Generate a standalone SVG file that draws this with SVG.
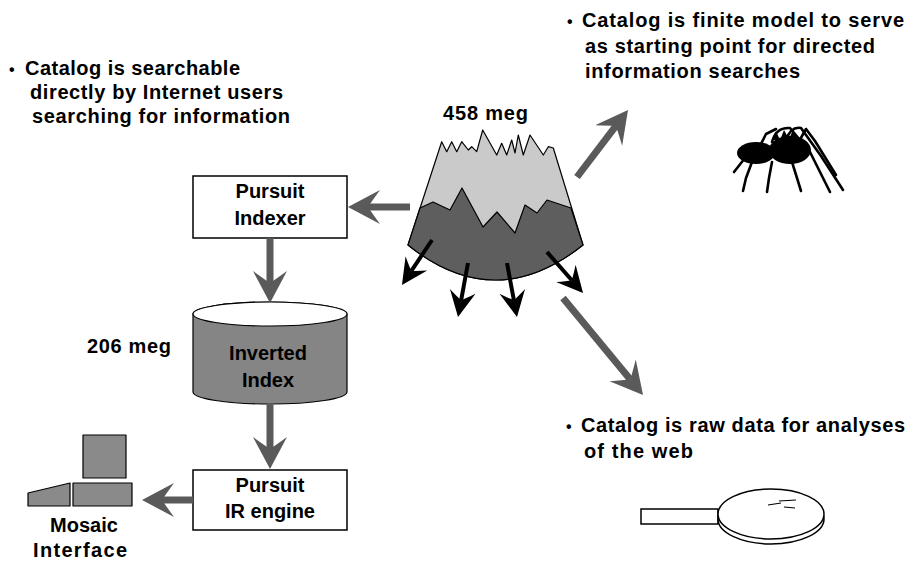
<svg xmlns="http://www.w3.org/2000/svg" width="912" height="561" viewBox="0 0 912 561">
  <style>
    text { font-family: "Liberation Sans", Arial, sans-serif; font-weight: bold; fill: #000; }
    .note { font-size: 20px; }
    .label { font-size: 20px; text-anchor: middle; }
    .dot { font-size: 16px; }
    .box { fill: #fff; stroke: #000; stroke-width: 1.5; }
    .outline { stroke: #000; stroke-width: 1.2; stroke-linejoin: round; }
    .flow { stroke: #5a5a5a; stroke-width: 7; fill: none; }
    .drop { stroke: #000; stroke-width: 4; fill: none; }
    .leg { stroke: #000; stroke-width: 2.6; fill: none; stroke-linecap: round; stroke-linejoin: round; }
  </style>
  <defs>
    <marker id="greyHead" markerUnits="userSpaceOnUse" viewBox="0 -18 32 36" refX="12" refY="0" markerWidth="32" markerHeight="36" orient="auto">
      <path d="M32,0 L0,-17 Q8,-6 12,0 Q8,6 0,17 Z" fill="#5a5a5a"/>
    </marker>
    <marker id="blackHead" markerUnits="userSpaceOnUse" viewBox="0 -14 26 28" refX="9" refY="0" markerWidth="26" markerHeight="28" orient="auto">
      <path d="M26,0 L0,-13 Q6,-5 9,0 Q6,5 0,13 Z" fill="#000"/>
    </marker>
  </defs>

  <rect width="912" height="561" fill="#fff"/>

  <!-- notes -->
  <g id="note-search">
    <text class="dot" x="9" y="75">•</text>
    <text class="note" x="25" y="75" textLength="215" lengthAdjust="spacing">Catalog is searchable</text>
    <text class="note" x="30" y="99" textLength="253" lengthAdjust="spacing">directly by Internet users</text>
    <text class="note" x="32" y="123" textLength="258" lengthAdjust="spacing">searching for information</text>
  </g>
  <g id="note-model">
    <text class="dot" x="567" y="27">•</text>
    <text class="note" x="582" y="27" textLength="322" lengthAdjust="spacing">Catalog is finite model to serve</text>
    <text class="note" x="585" y="53" textLength="290" lengthAdjust="spacing">as starting point for directed</text>
    <text class="note" x="585" y="78" textLength="215" lengthAdjust="spacing">information searches</text>
  </g>
  <g id="note-raw">
    <text class="dot" x="566" y="432">•</text>
    <text class="note" x="581" y="432" textLength="324" lengthAdjust="spacing">Catalog is raw data for analyses</text>
    <text class="note" x="584" y="458" textLength="109" lengthAdjust="spacing">of the web</text>
  </g>

  <!-- catalog mountain -->
  <g id="catalog">
    <text class="note" x="443" y="120" textLength="85" lengthAdjust="spacing">458 meg</text>
    <path class="outline" fill="#cacaca" d="M441.7,141.7 L446.7,151.7 L451.7,141.7 L456.7,151.7 L461.7,141.7 L468.3,150 L471.7,146.7 L476.7,151.7 L482.7,130 L496.7,155 L501.7,143.3 L506.7,155 L511.7,140 L515,153 L518.3,135 L523.3,155 L530,135 L543.3,155 L548.3,146.7 L553.3,148 L583,245 Q495,315 408,245 Z"/>
    <path class="outline" fill="#5e5e5e" d="M420,208 L433,202 L450,210 L462,188 L483,227 L497,212 L515,233 L525,205 L537,213 L547,200 L571,208 L583,245 Q495,315 408,245 Z"/>
  </g>

  <!-- Pursuit Indexer -->
  <g id="indexer">
    <rect class="box" x="193" y="176" width="154" height="62"/>
    <text class="label" x="270" y="198">Pursuit</text>
    <text class="label" x="270" y="225">Indexer</text>
  </g>

  <!-- Inverted Index cylinder -->
  <g id="inverted-index">
    <text class="note" x="87" y="353" textLength="84" lengthAdjust="spacing">206 meg</text>
    <path class="outline" fill="#858585" d="M193,314 L193,392 A77,12 0 0 0 347,392 L347,314 A77,12 0 0 0 193,314 Z"/>
    <ellipse class="outline" fill="#fff" cx="270" cy="314" rx="77" ry="12"/>
    <text class="label" x="268" y="360">Inverted</text>
    <text class="label" x="268" y="387">Index</text>
  </g>

  <!-- Pursuit IR engine -->
  <g id="ir-engine">
    <rect class="box" x="193" y="470" width="154" height="60"/>
    <text class="label" x="270" y="492">Pursuit</text>
    <text class="label" x="270" y="518">IR engine</text>
  </g>

  <!-- Mosaic interface -->
  <g id="mosaic">
    <rect class="outline" fill="#8a8a8a" x="83" y="435" width="43" height="43"/>
    <rect class="outline" fill="#8a8a8a" x="73" y="483" width="59" height="23"/>
    <path class="outline" fill="#8a8a8a" d="M28,506 L28,493 L70,483 L70,506 Z"/>
    <text class="label" x="84" y="532">Mosaic</text>
    <text class="note" x="33" y="557" textLength="94" lengthAdjust="spacing">Interface</text>
  </g>

  <!-- spider -->
  <g id="spider">
    <ellipse cx="756" cy="153" rx="19" ry="11" fill="#000"/>
    <ellipse cx="790" cy="150" rx="21" ry="14" fill="#000"/>
    <path d="M772,140 L776,131 L780,140 L784,130 L789,139 L793,130 L798,140 Z" fill="#000"/>
    <path class="leg" d="M745,158 L734,172"/>
    <path class="leg" d="M752,162 L746,178 L743,191"/>
    <path class="leg" d="M772,162 L769,178 L767,192"/>
    <path class="leg" d="M792,162 L797,178 L801,191"/>
    <path class="leg" d="M760,146 L766,134 L776,129"/>
    <path class="leg" d="M772,142 Q776,127 790,128 L810,152 L830,192"/>
    <path class="leg" d="M786,140 Q791,126 801,128 L821,156 L843,190"/>
    <path class="leg" d="M798,143 L806,129 L815,141 L836,175"/>
  </g>

  <!-- magnifying glass -->
  <g id="magnifier" fill="#fff" stroke="#000" stroke-width="1.5">
    <rect x="641" y="509" width="77" height="15"/>
    <ellipse cx="771" cy="519" rx="53" ry="25"/>
    <ellipse cx="771" cy="514" rx="53" ry="25"/>
    <path d="M768,505 L781,503 M779,501 L796,500 M784,507 L795,508" stroke-width="1.2"/>
  </g>

  <!-- connectors -->
  <g id="connectors">
    <line class="flow" x1="270" y1="238" x2="270" y2="283" marker-end="url(#greyHead)"/>
    <line class="flow" x1="270" y1="403" x2="270" y2="449" marker-end="url(#greyHead)"/>
    <line class="flow" x1="193" y1="500" x2="162" y2="500" marker-end="url(#greyHead)"/>
    <line class="flow" x1="410" y1="207" x2="368" y2="207" marker-end="url(#greyHead)"/>
    <line class="flow" x1="577" y1="177" x2="615.9" y2="125.9" marker-end="url(#greyHead)"/>
    <line class="flow" x1="563" y1="298" x2="630.3" y2="379.6" marker-end="url(#greyHead)"/>
    <line class="drop" x1="432" y1="240" x2="411.4" y2="270.9" marker-end="url(#blackHead)"/>
    <line class="drop" x1="468" y1="263" x2="461.1" y2="300.3" marker-end="url(#blackHead)"/>
    <line class="drop" x1="507" y1="263" x2="513.9" y2="300.3" marker-end="url(#blackHead)"/>
    <line class="drop" x1="547" y1="252" x2="571.8" y2="280.2" marker-end="url(#blackHead)"/>
  </g>
</svg>
